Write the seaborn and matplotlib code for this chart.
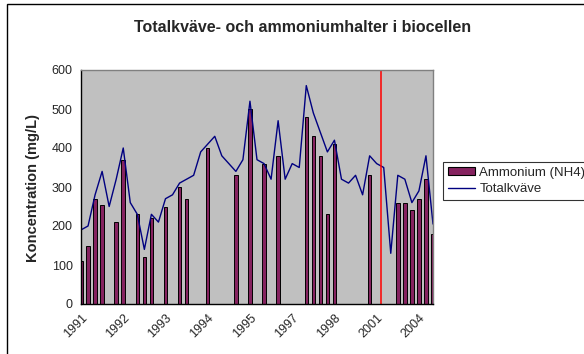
import numpy as np
import pandas as pd
import matplotlib
matplotlib.use("Agg")
import matplotlib.pyplot as plt
from matplotlib.patches import Rectangle, Patch
from matplotlib.lines import Line2D
import seaborn as sns

# Sampling occasions (category positions along the x axis)
sample_index = list(range(51))

# Ammonium (NH4), mg/L -- only measured on some occasions
ammonium = [110, 150, 270, 255, None, 210, 370, None, 230, 120,
            220, None, 250, None, 300, 270, None, None, 400, None,
            None, None, 330, None, 500, None, 360, None, 380, None,
            None, None, 480, 430, 380, 230, 410, None, None, None,
            None, 330, None, None, None, 260, 260, 240, 270, 320,
            180]

# Total nitrogen, mg/L
totalkvave = [190, 200, 280, 340, 250, 320, 400, 260, 230, 140,
              230, 210, 270, 280, 310, 320, 330, 390, 410, 430,
              380, 360, 340, 370, 520, 370, 360, 320, 470, 320,
              360, 350, 560, 490, 440, 390, 420, 320, 310, 330,
              280, 380, 360, 350, 130, 330, 320, 260, 290, 380,
              205]

# Year labels shown on every sixth category
tick_labels = ["1991", "1992", "1993", "1994", "1995", "1997", "1998", "2001", "2004"]
label_step = 6

# Position of the marker separating the two periods
marker_position = 42.6

df = pd.DataFrame({
    "prov": sample_index,
    "Ammonium (NH4)": [np.nan if v is None else v for v in ammonium],
    "Totalkväve": totalkvave,
})

sns.set_style("white")
plt.rcParams["font.family"] = ["Liberation Sans", "DejaVu Sans"]

W, H = 584, 354
fig = plt.figure(figsize=(W / 100, H / 100), dpi=100)
ax = fig.add_axes([81 / W, (H - 304) / H, (433 - 81) / W, (304 - 70) / H])
ax.set_facecolor("#C0C0C0")

bar_color = "#85225F"
line_color = "#000080"

sns.barplot(data=df, x="prov", y="Ammonium (NH4)", color=bar_color,
            width=0.5, edgecolor="black", linewidth=0.7,
            errorbar=None, ax=ax, saturation=1)
sns.lineplot(data=df, x="prov", y="Totalkväve", color=line_color,
             linewidth=1.0, ax=ax)

ax.axvline(marker_position, color="#FF0000", linewidth=1.1)

ax.set_xlim(0, len(sample_index) - 1)
ax.set_ylim(0, 600)
ax.set_yticks(np.arange(0, 601, 100))
ax.set_xticks(sample_index)
xt = [""] * len(sample_index)
for i, lab in enumerate(tick_labels):
    xt[i * label_step] = lab
ax.set_xticklabels(xt, rotation=45, ha="right", rotation_mode="anchor",
                   fontsize=9)
ax.tick_params(axis="x", direction="out", length=3, width=0.8,
               color="black", pad=3)
ax.tick_params(axis="y", direction="out", length=4, width=0.8,
               color="black", labelsize=9, pad=2)
ax.set_xlabel("")
ax.set_ylabel("")

for side in ("left", "bottom"):
    ax.spines[side].set_color("black")
    ax.spines[side].set_linewidth(1.0)
for side in ("top", "right"):
    ax.spines[side].set_color("#808080")
    ax.spines[side].set_linewidth(1.0)

fig.text(303 / W, 1 - 28 / H, "Totalkväve- och ammoniumhalter i biocellen",
         ha="center", va="center", fontsize=11.5, fontweight="bold")
fig.text(33 / W, 1 - 188 / H, "Koncentration (mg/L)", rotation=90,
         ha="center", va="center", fontsize=10.5, fontweight="bold")

handles = [Patch(facecolor=bar_color, edgecolor="black", linewidth=0.8),
           Line2D([], [], color=line_color, linewidth=1.0)]
leg = fig.legend(handles, ["Ammonium (NH4)", "Totalkväve"],
                 loc="upper left", bbox_to_anchor=(443 / W, 1 - 162 / H),
                 frameon=True, fancybox=False, fontsize=9.5,
                 handlelength=2.1, handleheight=0.55, handletextpad=0.3,
                 borderpad=0.35, labelspacing=0.35, borderaxespad=0)
leg.get_frame().set_edgecolor("black")
leg.get_frame().set_linewidth(0.8)

fig.patches.append(Rectangle((7 / W, -0.1), 1.2, 1 - 4 / H + 0.1,
                             transform=fig.transFigure, fill=False,
                             edgecolor="black", linewidth=1.0))

fig.savefig("out.png", dpi=100)
